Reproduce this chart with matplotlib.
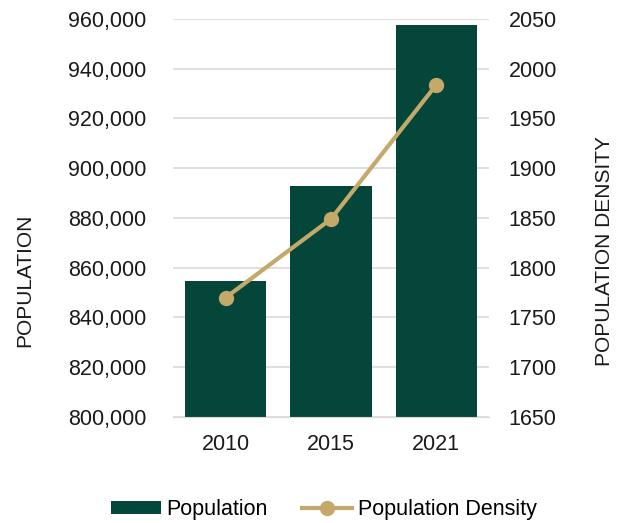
import matplotlib
matplotlib.use("Agg")
import matplotlib.pyplot as plt
from matplotlib.ticker import FuncFormatter

plt.rcParams['font.family'] = ['Liberation Sans', 'DejaVu Sans']

years = ["2010", "2015", "2021"]
population = [854500, 892800, 957600]
density = [1770, 1849, 1984]

bar_color = "#04473a"
line_color = "#c4a96b"
text_color = "#1a1a1a"
fs = 15.5

fig = plt.figure(figsize=(6.19, 5.23), dpi=100)
ax = fig.add_axes([0.2795, 0.2027, 0.5105, 0.761])
x = range(len(years))

ax.bar(x, population, width=0.77, color=bar_color, zorder=2, label="Population")
ax.set_ylim(800000, 960000)
ax.set_yticks(range(800000, 960001, 20000))
ax.yaxis.set_major_formatter(FuncFormatter(lambda v, p: f"{int(v):,}"))
ax.set_xlim(-0.5, 2.5)
ax.set_xticks(list(x))
ax.set_xticklabels(years)
ax.grid(axis="y", color="#d9d9d9", linewidth=1.2, zorder=0)
ax.set_axisbelow(True)
for s in ["top", "left", "right"]:
    ax.spines[s].set_visible(False)
ax.spines["bottom"].set_color("#d9d9d9")
ax.tick_params(axis="y", length=0, labelsize=fs, colors=text_color, pad=19)
ax.tick_params(axis="x", length=0, labelsize=fs, colors=text_color, pad=12)

ax2 = ax.twinx()
ax2.plot(list(x), density, color=line_color, linewidth=3, marker="o",
         markersize=10, zorder=3, label="Population Density")
ax2.set_ylim(1650, 2050)
ax2.set_yticks(range(1650, 2051, 50))
for s in ["top", "left", "right", "bottom"]:
    ax2.spines[s].set_visible(False)
ax2.tick_params(length=0, labelsize=fs, colors=text_color, pad=14)

# axis titles sit off-centre in the reference, so place them on the figure
fig.text(0.0404, 0.4646, "POPULATION", rotation=90, ha="center", va="center",
         fontsize=15, color=text_color)
fig.text(0.977, 0.52, "POPULATION DENSITY", rotation=90, ha="center", va="center",
         fontsize=15, color=text_color)

h1, l1 = ax.get_legend_handles_labels()
h2, l2 = ax2.get_legend_handles_labels()
fig.legend(h1 + h2, l1 + l2, loc="center", bbox_to_anchor=(0.523, 0.025), ncol=2,
           frameon=False, fontsize=fs, handlelength=2.3, handleheight=0.55,
           handletextpad=0.28, columnspacing=1.58, borderaxespad=0, borderpad=0)

fig.savefig("out.png", dpi=100)
